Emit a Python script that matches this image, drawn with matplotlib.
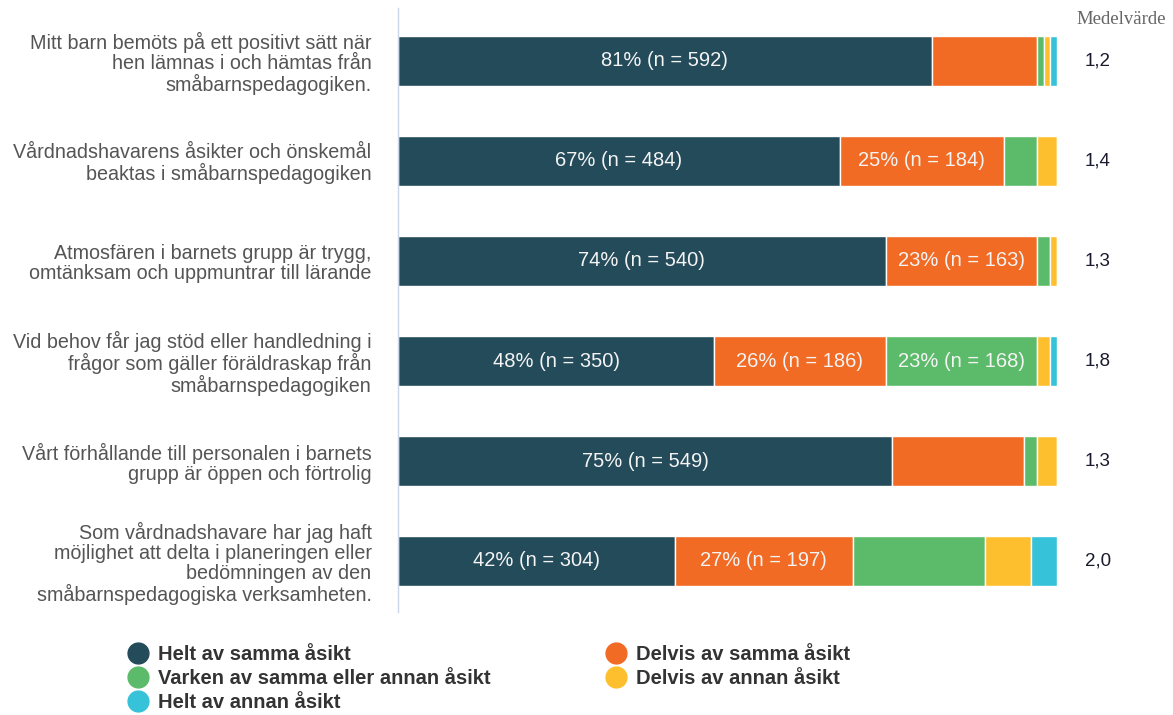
import numpy as np
import matplotlib.pyplot as plt

# data
categories = [
    'Mitt barn bemöts på ett positivt sätt när\nhen lämnas i och hämtas från\nsmåbarnspedagogiken.',
    'Vårdnadshavarens åsikter och önskemål\nbeaktas i småbarnspedagogiken',
    'Atmosfären i barnets grupp är trygg,\nomtänksam och uppmuntrar till lärande',
    'Vid behov får jag stöd eller handledning i\nfrågor som gäller föräldraskap från\nsmåbarnspedagogiken',
    'Vårt förhållande till personalen i barnets\ngrupp är öppen och förtrolig',
    'Som vårdnadshavare har jag haft\nmöjlighet att delta i planeringen eller\nbedömningen av den\nsmåbarnspedagogiska verksamheten.',
]
series = ['Helt av samma åsikt', 'Delvis av samma åsikt',
          'Varken av samma eller annan åsikt', 'Delvis av annan åsikt',
          'Helt av annan åsikt']
colors = ['#244b5a', '#f26b24', '#5cbb6a', '#fdbf2d', '#36c3d9']

helt_samma = [81, 67, 74, 48, 75, 42]
delvis_samma = [16, 25, 23, 26, 20, 27]
varken = [1, 5, 2, 23, 2, 20]
delvis_annan = [1, 3, 1, 2, 3, 7]
helt_annan = [1, 0, 0, 1, 0, 4]

# n shown in the labels (None = no label drawn)
n_helt_samma = [592, 484, 540, 350, 549, 304]
n_delvis_samma = [None, 184, 163, 186, None, 197]
n_varken = [None, None, None, 168, None, None]

medelvarde = ['1,2', '1,4', '1,3', '1,8', '1,3', '2,0']

values = [helt_samma, delvis_samma, varken, delvis_annan, helt_annan]
counts = [n_helt_samma, n_delvis_samma, n_varken, [None] * 6, [None] * 6]

plt.rcParams['font.family'] = ['Liberation Sans', 'DejaVu Sans']

fig = plt.figure(figsize=(11.73, 7.15), dpi=100)
ax = fig.add_axes([398 / 1173, 1 - 612 / 715, (1057 - 398) / 1173, 604 / 715])

y = np.arange(len(categories))
left = np.zeros(len(categories))
for vals, ns, col, name in zip(values, counts, colors, series):
    vals = np.array(vals, dtype=float)
    ax.barh(y, vals, left=left, height=0.5, color=col, edgecolor='white',
            linewidth=1, label=name)
    for i in range(len(y)):
        if ns[i] is not None:
            ax.text(left[i] + vals[i] / 2, y[i], '%d%% (n = %d)' % (vals[i], ns[i]),
                    ha='center', va='center', color='#f4f4f4', fontsize=14.5)
    left += vals

# mean values to the right of the bars
for i, m in enumerate(medelvarde):
    ax.text(104.2, y[i], m, ha='left', va='center', color='#1a1a2e',
            fontsize=13.5, clip_on=False)

ax.set_xlim(0, 100)
ax.set_ylim(5.51, -0.53)
ax.set_yticks(y)
ax.set_yticklabels(categories, fontsize=14.2, color='#555555', linespacing=1.05)
ax.tick_params(axis='y', length=0, pad=19)
ax.set_xticks([])
for s in ['top', 'right', 'bottom']:
    ax.spines[s].set_visible(False)
ax.spines['left'].set_color('#ccd6eb')
ax.spines['left'].set_linewidth(1)

fig.text(1121 / 1173, 1 - 20 / 715, 'Medelvärde', ha='center', va='center',
         family='Liberation Serif', fontsize=13.5, color='#666666')

# legend: two columns, filled column-wise
order = [0, 2, 4, 1, 3]
handles = [plt.Line2D([], [], marker='o', ls='', markersize=15,
                      color=colors[k]) for k in order]
leg = fig.legend(handles, [series[k] for k in order], ncol=2,
                 loc='upper left', bbox_to_anchor=(120 / 1173, 1 - 637 / 715),
                 frameon=False, handletextpad=0.5, labelspacing=0.25,
                 columnspacing=5.7, handlelength=1.0, borderaxespad=0,
                 prop={'weight': 'bold', 'size': 14.5})
for t in leg.get_texts():
    t.set_color('#333333')

fig.savefig('out.png', dpi=100)
